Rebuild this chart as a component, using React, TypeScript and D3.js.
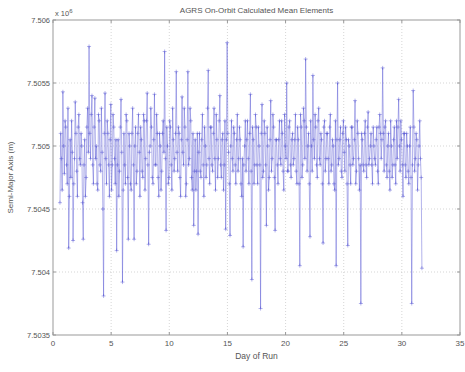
import React from "react";
import * as d3 from "d3";

const title = "AGRS On-Orbit Calculated Mean Elements";
const xLabel = "Day of Run";
const yLabel = "Semi-Major Axis (m)";
const xTicks = [0, 5, 10, 15, 20, 25, 30, 35];
const yTicks = [7503500, 7504000, 7504500, 7505000, 7505500, 7506000];
const yTickLabels = ["7.5035", "7.504", "7.5045", "7.505", "7.5055", "7.506"];
const firstDay = 0.6;
const dayStep = 0.125;
// semi-major axis in metres, samples at firstDay + i*dayStep
const semiMajorAxis = [
  7504550, 7504900, 7505430, 7504780, 7505150, 7504700, 7504190, 7505050,
  7505200, 7504250, 7504900, 7505100, 7504600, 7505250, 7504850, 7505000,
  7504260, 7505050, 7504750, 7505300, 7505790, 7504900, 7505400, 7504700,
  7505380, 7505000, 7504650, 7505200, 7504800, 7504950, 7503810, 7505420,
  7504700, 7505100, 7504600, 7505330, 7504850, 7505150, 7504700, 7504170,
  7505050, 7504800, 7505370, 7503920, 7505100, 7504700, 7505200, 7504260,
  7505000, 7504650, 7505300, 7504260, 7505150, 7504800, 7505250, 7504600,
  7505050, 7504750, 7505200, 7504900, 7505420, 7504220, 7505000, 7505150,
  7504700, 7505410, 7504850, 7505100, 7504600, 7505000, 7504800, 7505200,
  7505750, 7504330, 7505000, 7504750, 7505150, 7504650, 7505050, 7504900,
  7505590, 7504800, 7505100, 7504600, 7505390, 7504850, 7505150, 7504700,
  7505590, 7504900, 7505200, 7504650, 7504370, 7505050, 7504800, 7504300,
  7505100, 7504750, 7505250, 7504600, 7505000, 7504850, 7505600, 7504700,
  7505150, 7504800, 7505300, 7504650, 7505050, 7504900, 7505400, 7504750,
  7505100, 7504850, 7504340, 7505820, 7504950, 7504290, 7505200, 7504800,
  7505100, 7504700, 7505250, 7504900, 7505050, 7504600, 7504200, 7505000,
  7504800, 7505200, 7504700, 7505410, 7503940, 7505050, 7504850, 7505150,
  7504700, 7505000, 7503710, 7505330, 7504800, 7505100, 7504370, 7505000,
  7504750, 7505360, 7504900, 7505150, 7504330, 7505050, 7504700, 7505200,
  7504850, 7505100, 7504650, 7505000, 7505500, 7504800, 7505200, 7504750,
  7505100, 7504900, 7505250, 7504700, 7505050, 7504050, 7505150, 7504850,
  7505200, 7505690, 7504800, 7505100, 7504280, 7505000, 7505560, 7504900,
  7505150, 7504750, 7505300, 7504850, 7505050, 7504230, 7505200, 7504900,
  7505100, 7504700, 7505250, 7504850, 7505000, 7504650, 7504050, 7505500,
  7504900, 7505150, 7504750, 7505200, 7504800, 7505050, 7504210, 7505000,
  7504700, 7505150, 7504900, 7505360, 7504800, 7505100, 7504650, 7503750,
  7505050, 7504800, 7505200, 7504750, 7505270, 7504900, 7505100, 7504700,
  7505000, 7504850, 7505150, 7504700, 7505250, 7504900, 7505620, 7504800,
  7505200, 7504750, 7505100, 7504650, 7505000, 7504850, 7505150, 7504700,
  7504900, 7505370, 7504800, 7505050, 7504600, 7505100, 7504750, 7505000,
  7504700, 7505150, 7503750, 7505440, 7504800, 7505100, 7504650, 7505000,
  7504900, 7504030,
];
// in-between samples at firstDay + (i + 0.5)*dayStep
const semiMajorAxisMid = [
  7505100, 7504650, 7505000, 7505200, 7504850, 7505300, 7504600, 7504750,
  7504950, 7504700, 7505350, 7504800, 7505150, 7504900, 7505100, 7504550,
  7504850, 7504600, 7505150, 7504950, 7505100, 7505250, 7504850, 7505150,
  7504900, 7504700, 7505250, 7504850, 7505300, 7504500, 7505100, 7504900,
  7505200, 7504850, 7505050, 7504650, 7505250, 7504900, 7505050, 7504850,
  7504600, 7505150, 7504950, 7504650, 7504850, 7505250, 7504750, 7505100,
  7504700, 7505100, 7504850, 7505000, 7504700, 7505100, 7504950, 7505150,
  7504800, 7505250, 7504650, 7505200, 7504850, 7504950, 7505300, 7504750,
  7505050, 7504850, 7505250, 7504750, 7505100, 7504650, 7505100, 7504950,
  7504900, 7505150, 7504700, 7505200, 7504850, 7505300, 7504800, 7505100,
  7504950, 7505150, 7504750, 7505050, 7504950, 7505300, 7504600, 7505050,
  7504850, 7505300, 7504750, 7505100, 7504800, 7504650, 7505100, 7504950,
  7504800, 7505050, 7504850, 7505150, 7504750, 7505300, 7504900, 7505150,
  7504850, 7505100, 7504900, 7505250, 7504750, 7505200, 7504850, 7505050,
  7504650, 7505200, 7505050, 7505100, 7504700, 7505000, 7504900, 7505150,
  7504850, 7505050, 7504800, 7505150, 7504700, 7504900, 7504850, 7505200,
  7505050, 7504900, 7505100, 7504800, 7505150, 7504700, 7505250, 7504850,
  7505150, 7504850, 7505100, 7504750, 7505200, 7504850, 7505150, 7504650,
  7505050, 7504800, 7505250, 7504750, 7505050, 7504850, 7505050, 7504900,
  7505200, 7504800, 7505250, 7504900, 7504800, 7505150, 7504850, 7505050,
  7504850, 7505050, 7504800, 7505150, 7504700, 7505250, 7504750, 7505300,
  7504900, 7505150, 7505000, 7504700, 7505200, 7504800, 7505050, 7505250,
  7504850, 7505200, 7504900, 7505100, 7504700, 7505150, 7504800, 7505100,
  7504900, 7505150, 7504800, 7505050, 7504700, 7505200, 7505050, 7504850,
  7505050, 7504800, 7505100, 7504950, 7505150, 7504700, 7505050, 7504850,
  7505150, 7504850, 7505050, 7504700, 7505200, 7504900, 7504850, 7505100,
  7504850, 7505100, 7504850, 7505150, 7504850, 7505000, 7504850, 7505150,
  7504900, 7505050, 7504800, 7505150, 7505100, 7505050, 7505100, 7505150,
  7504850, 7505000, 7504800, 7505200, 7504750, 7505050, 7504850, 7505200,
  7505150, 7505000, 7505200, 7504850, 7505100, 7504850, 7505100, 7504800,
  7505000, 7504750, 7504850, 7505150, 7504900, 7505050, 7504850, 7505200,
  7504750,
];

export default function App() {
  const W = 465, H = 372;
  const L = 53, R = 460, T = 20, B = 335;
  const x = d3.scaleLinear().domain([0, 35]).range([L, R]);
  const y = d3.scaleLinear().domain([7503500, 7506000]).range([B, T]);
  const pts: [number, number][] = [];
  semiMajorAxis.forEach((v, i) => {
    pts.push([firstDay + i * dayStep, v]);
    if (i < semiMajorAxisMid.length) pts.push([firstDay + (i + 0.5) * dayStep, semiMajorAxisMid[i]]);
  });
  const line = d3.line<[number, number]>().x(d => x(d[0])).y(d => y(d[1]));
  const font = "'Liberation Sans', Arial, sans-serif";
  const txt = "#555";
  const blue = "#4d4dd2";
  return (
    <svg width={W} height={H} style={{ position: "absolute", left: 0, top: 0, background: "#fff" }} fontFamily={font}>
      <rect x={0} y={0} width={W} height={H} fill="#fff" />
      {xTicks.slice(1, -1).map(t => (
        <line key={"gx" + t} x1={x(t)} x2={x(t)} y1={T} y2={B} stroke="#bbb" strokeWidth={0.6} strokeDasharray="1,2" />
      ))}
      {yTicks.slice(1, -1).map(t => (
        <line key={"gy" + t} x1={L} x2={R} y1={y(t)} y2={y(t)} stroke="#bbb" strokeWidth={0.6} strokeDasharray="1,2" />
      ))}
      <path d={line(pts) || ""} fill="none" stroke={blue} strokeWidth={0.55} strokeOpacity={0.8} />
      {pts.map((p, i) => (
        <path key={i} d={`M${x(p[0]) - 2},${y(p[1])}h4M${x(p[0])},${y(p[1]) - 2}v4`} stroke={blue} strokeWidth={0.55} strokeOpacity={0.8} />
      ))}
      <rect x={L} y={T} width={R - L} height={B - T} fill="none" stroke="#999" strokeWidth={1} />
      {xTicks.map(t => (
        <g key={"xt" + t}>
          <line x1={x(t)} x2={x(t)} y1={B} y2={B - 3} stroke="#999" />
          <line x1={x(t)} x2={x(t)} y1={T} y2={T + 3} stroke="#999" />
          <text x={x(t)} y={B + 11} textAnchor="middle" fontSize={8} fill={txt}>{t}</text>
        </g>
      ))}
      {yTicks.map((t, i) => (
        <g key={"yt" + t}>
          <line x1={L} x2={L + 3} y1={y(t)} y2={y(t)} stroke="#999" />
          <line x1={R} x2={R - 3} y1={y(t)} y2={y(t)} stroke="#999" />
          <text x={L - 3} y={y(t) + 3} textAnchor="end" fontSize={7.5} fill={txt}>{yTickLabels[i]}</text>
        </g>
      ))}
      <text x={L + 2} y={T - 4} fontSize={7.5} fill={txt}>x 10<tspan dy={-3} fontSize={6}>6</tspan></text>
      <text x={(L + R) / 2} y={13} textAnchor="middle" fontSize={8} fill={txt}>{title}</text>
      <text x={(L + R) / 2} y={B + 24} textAnchor="middle" fontSize={8.5} fill={txt}>{xLabel}</text>
      <text transform={`translate(13,${(T + B) / 2}) rotate(-90)`} textAnchor="middle" fontSize={8} fill={txt}>{yLabel}</text>
    </svg>
  );
}
